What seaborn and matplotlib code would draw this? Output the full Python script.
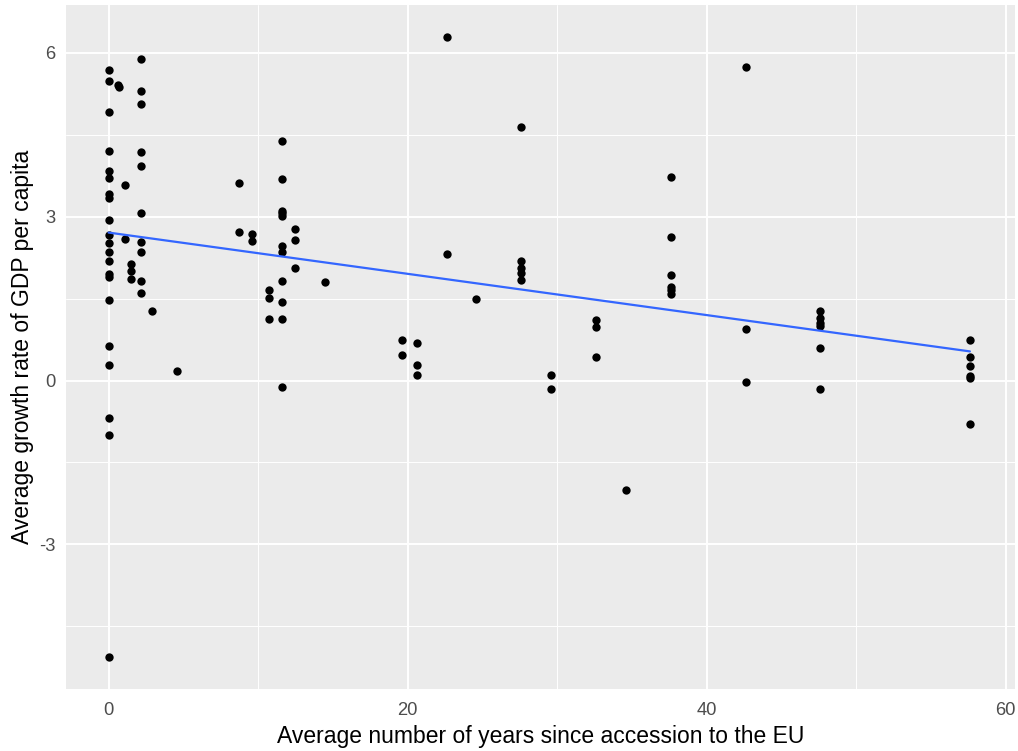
import numpy as np
import pandas as pd
import matplotlib
matplotlib.use("Agg")
import matplotlib.pyplot as plt
import seaborn as sns

# --- Data (years since accession, GDP growth) ---
years_0 = [0.0] * 21
growth_0 = [5.69, 5.48, 4.91, 4.20, 3.83, 3.71, 3.42, 3.34, 2.94, 2.66, 2.52,
            2.35, 2.19, 1.95, 1.90, 1.47, 0.63, 0.28, -0.69, -0.99, -5.06]

years_early = [0.6, 0.7, 1.1, 1.1, 1.5, 1.5, 1.5,
               2.2, 2.2, 2.2, 2.2, 2.2, 2.2, 2.2, 2.2, 2.2, 2.2,
               2.9, 4.6]
growth_early = [5.42, 5.37, 3.58, 2.59, 2.14, 2.00, 1.86,
                5.89, 5.31, 5.06, 4.19, 3.93, 3.07, 2.54, 2.36, 1.82, 1.61,
                1.27, 0.17]

years_mid = [8.7, 8.7, 9.6, 9.6, 10.7, 10.7, 10.7,
             11.6, 11.6, 11.6, 11.6, 11.6, 11.6, 11.6, 11.6, 11.6, 11.6, 11.6,
             12.5, 12.5, 12.5, 14.5, 19.6, 19.6, 20.6, 20.6, 20.6,
             22.6, 22.6, 24.6]
growth_mid = [3.61, 2.72, 2.69, 2.55, 1.65, 1.51, 1.13,
              4.39, 3.70, 3.11, 3.06, 3.01, 2.46, 2.35, 1.82, 1.44, 1.13, -0.12,
              2.77, 2.57, 2.07, 1.81, 0.75, 0.46, 0.69, 0.29, 0.11,
              6.29, 2.31, 1.50]

years_late = [27.6, 27.6, 27.6, 27.6, 27.6, 29.6, 29.6, 32.6, 32.6, 32.6, 34.6,
              37.6, 37.6, 37.6, 37.6, 37.6, 37.6, 42.6, 42.6, 42.6,
              47.6, 47.6, 47.6, 47.6, 47.6, 47.6,
              57.6, 57.6, 57.6, 57.6, 57.6, 57.6]
growth_late = [4.65, 2.19, 2.06, 1.97, 1.84, 0.11, -0.15, 1.10, 0.98, 0.43, -2.00,
               3.72, 2.63, 1.93, 1.72, 1.65, 1.58, 5.75, 0.95, -0.03,
               1.27, 1.15, 1.06, 1.00, 0.60, -0.15,
               0.75, 0.43, 0.26, 0.08, 0.04, -0.79]

df = pd.DataFrame({
    "years": years_0 + years_early + years_mid + years_late,
    "growth": growth_0 + growth_early + growth_mid + growth_late,
})

# --- ggplot-like look ---
sns.set_style("darkgrid", {"axes.facecolor": "#EBEBEB", "grid.color": "white"})
plt.rcParams["font.family"] = ["Liberation Sans", "DejaVu Sans"]
plt.rcParams["axes.unicode_minus"] = False

fig = plt.figure(figsize=(10.18, 7.51), dpi=100)
ax = fig.add_axes([0.0648, 0.0825, 0.932, 0.911])

sns.regplot(data=df, x="years", y="growth", ax=ax, ci=None,
            scatter_kws={"s": 36, "color": "black", "linewidths": 0, "alpha": 1},
            line_kws={"color": "#3366FF", "linewidth": 1.6})

ax.set_xlim(-2.85, 60.6)
ax.set_ylim(-5.65, 6.88)
ax.set_xticks([0, 20, 40, 60])
ax.set_yticks([-3, 0, 3, 6])
ax.set_xticks([10, 30, 50], minor=True)
ax.set_yticks([-4.5, -1.5, 1.5, 4.5], minor=True)
ax.grid(which="major", color="white", linewidth=1.4)
ax.grid(which="minor", color="white", linewidth=0.7)
ax.set_axisbelow(True)
for s in ax.spines.values():
    s.set_visible(False)

ax.tick_params(axis="both", which="major", length=4.5, width=1, color="#333333",
               labelsize=13.2, labelcolor="#4D4D4D", pad=3)
ax.tick_params(axis="x", which="major", pad=5)
ax.tick_params(axis="both", which="minor", length=0)

ax.set_xlabel("Average number of years since accession to the EU",
              fontsize=16.5, color="black", labelpad=4)
ax.set_ylabel("Average growth rate of GDP per capita",
              fontsize=16.5, color="black", labelpad=4)

fig.savefig("out.png", dpi=100, facecolor="white")
plt.close(fig)
